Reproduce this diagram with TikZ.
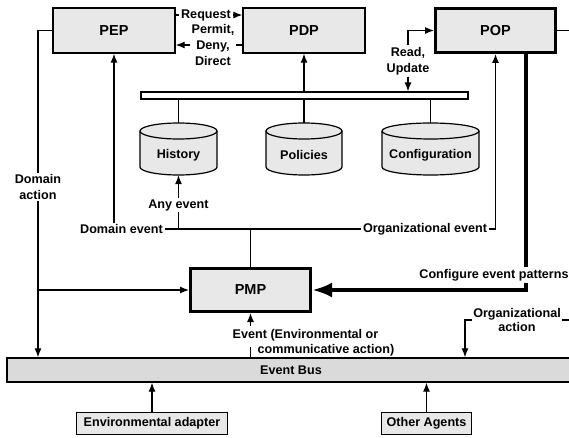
\documentclass[tikz,border=0pt]{standalone}
\usepackage{fontspec}
\setmainfont{Liberation Sans}
\usetikzlibrary{arrows.meta,calc}
\definecolor{boxgray}{HTML}{E8E8E8}
\definecolor{busgray}{HTML}{DADADA}
\newcommand\mycyl[4]{%
  \draw[line width=1.2pt, fill=boxgray] (#2-#3,131) -- (#2-#3,167) arc[start angle=180,end angle=360,x radius=#3pt,y radius=8pt] -- (#2+#3,131);
  \draw[line width=1.2pt, fill=boxgray] (#2,131) ellipse[x radius=#3pt, y radius=8pt];
  \node[inner sep=0pt, minimum width=2*#3pt, minimum height=52pt] (#1) at (#2,149) {};
  \node[lbl] (#1t) at (#2,155) {#4};
}
\begin{document}
\begin{tikzpicture}[x=1pt,y=-1pt,
  ln/.style={line width=1.2pt},
  arr/.style={line width=1.2pt, -{Latex[length=9pt,width=7pt]}},
  box/.style={draw, line width=1.3pt, fill=boxgray, inner sep=0pt, font=\fontsize{14.5}{17}\selectfont\bfseries},
  bigbox/.style={box, line width=3pt},
  smallbox/.style={draw, line width=1.3pt, fill=boxgray, inner sep=0pt, font=\fontsize{12.6}{15}\selectfont\bfseries},
  lbl/.style={font=\fontsize{12.6}{16}\selectfont\bfseries, inner sep=1.5pt, align=center}
]
\useasboundingbox (0,0) rectangle (569,438);
\clip (0,0) rectangle (569,438);

% main boxes
\node[box, minimum width=122pt, minimum height=45pt] (PEP) at (114,30.5) {PEP};
\node[box, minimum width=122pt, minimum height=45pt] (PDP) at (304,30.5) {PDP};
\node[bigbox, minimum width=120pt, minimum height=44pt] (POP) at (495.5,30.5) {POP};
\node[bigbox, minimum width=120pt, minimum height=43pt] (PMP) at (250.5,290) {PMP};
\node[smallbox, minimum width=151pt, minimum height=22pt] (env) at (152,423.5) {Environmental adapter};
\node[smallbox, minimum width=90pt, minimum height=22pt] (oth) at (426.5,423.5) {Other Agents};
\node[smallbox, fill=busgray, minimum width=568pt, minimum height=24pt] (bus) at (291,370) {Event Bus};

% repository bar and stores
\node[draw, fill=white, line width=1.2pt, minimum width=327pt, minimum height=7pt, inner sep=0pt] (bar) at (304.5,95.5) {};
\mycyl{hist}{178.5}{38.5}{History}
\mycyl{pol}{304}{38}{Policies}
\mycyl{conf}{430.5}{48.5}{Configuration}

% labels
\node[lbl] (req) at (206,15) {Request};
\node[lbl] (pdd) at (213,45) {Permit,\\Deny,\\Direct};
\node[lbl] (rdup) at (408,61) {Read,\\Update};
\node[lbl] (dact) at (38,187) {Domain\\action};
\node[lbl] (anyev) at (178.5,205) {Any event};
\node[lbl] (dev) at (121.5,229) {Domain event};
\node[lbl] (oev) at (425,229) {Organizational event};
\node[lbl] (cfgl) at (494,275) {Configure event patterns};
\node[lbl, font=\fontsize{12.6}{14}\selectfont\bfseries] (oact) at (517,320) {Organizational\\action};
\node[lbl, align=left, anchor=west, font=\fontsize{12.6}{15}\selectfont\bfseries] (evl) at (231,342.5) {Event (Environmental or\\\hspace*{25pt}communicative action)};

% PEP <-> PDP
\draw[ln] (PEP.east |- req) -- (req.west);
\draw[arr] (req.east) -- (PDP.west |- req);
\draw[ln] (PDP.west |- pdd) -- (pdd.east);
\draw[arr] (pdd.west) -- (PEP.east |- pdd);

% bar connections
\draw[arr] (bar.north -| PDP.south) -- (PDP.south);
\draw[ln] (bar.south -| hist.north) -- (hist.north);
\draw[ln] (bar.south -| pol.north) -- (pol.north);
\draw[ln] (bar.south -| conf.north) -- (conf.north);
\draw[arr] (rdup.north) |- (POP.west);
\draw[arr] (rdup.south) -- (rdup.south |- bar.north);

% events
\draw[arr] (dev.north -| PEP.south) -- (PEP.south);
\draw[ln] (dev.east) -- (oev.west);
\draw[arr] (oev.east) -| (POP.south);
\draw[ln] (PMP.north) -- (PMP.north |- dev.east);
\draw[ln] (anyev.south) -- (anyev.south |- dev.east);
\draw[arr] (anyev.north) -- (hist.south);

% domain action
\draw[ln] (PEP.west) -| (dact.north);
\draw[arr] (dact.south) -- (dact.south |- bus.north);
\draw[arr] (dact.south |- PMP.west) -- (PMP.west);

% event from bus
\coordinate (evb) at (250.5,347);
\coordinate (evt) at (250.5,326);
\draw[ln] (bus.north -| PMP.south) -- (evb);
\draw[arr] (evt) -- (PMP.south);

% configure event patterns
\coordinate (cfx) at (526,0);
\draw[line width=4pt] (POP.south -| cfx) -- (cfgl.north -| cfx);
\draw[line width=4pt, -{Latex[length=20pt,width=15pt]}] (cfgl.south -| cfx) |- (PMP.east);

% organizational action
\coordinate (rc1) at (572,30.5);
\coordinate (rc2) at (572,320);
\coordinate (oax) at (465,320);
\draw[ln] (POP.east) -- (rc1) -- (rc2) -- (oact.east |- rc2);
\draw[arr] (oact.west |- oax) -- (oax) -- (oax |- bus.north);

% inputs to bus
\draw[arr] (env.north) -- (env.north |- bus.south);
\draw[arr] (oth.north) -- (oth.north |- bus.south);
\end{tikzpicture}
\end{document}
